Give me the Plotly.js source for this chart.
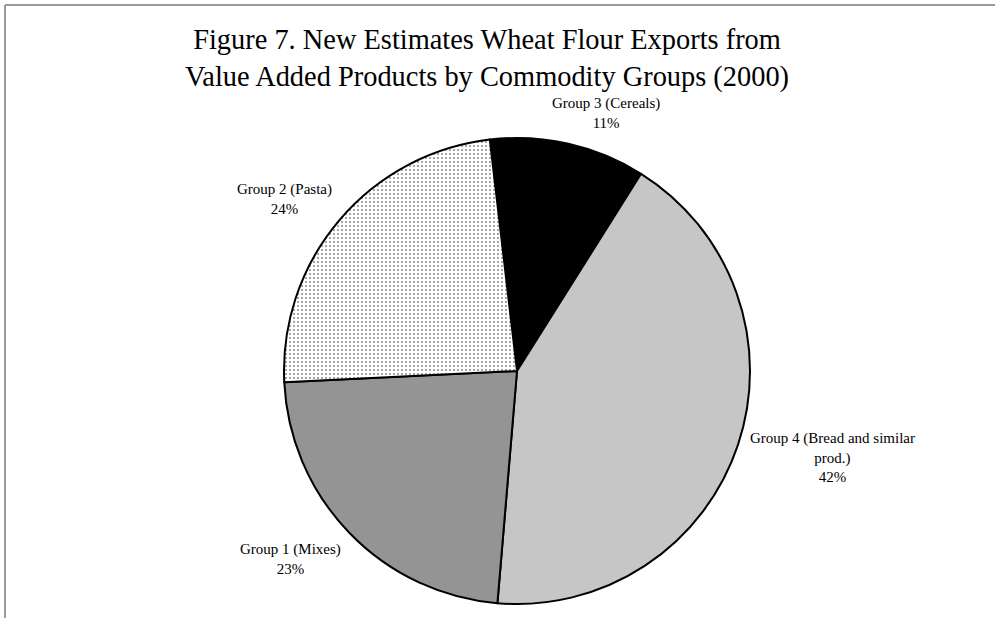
<!DOCTYPE html>
<html>
<head>
<meta charset="utf-8">
<script src="https://cdn.plot.ly/plotly-3.0.1.min.js"></script>
<style>html,body{margin:0;padding:0;background:#fff;}#chart{width:995px;height:618px;}</style>
</head>
<body>
<div id="chart"></div>
<script>
// Data
const categories = ["Group 3 (Cereals)", "Group 4 (Bread and similar prod.)", "Group 1 (Mixes)", "Group 2 (Pasta)"];
const labelLines = ["Group 3 (Cereals)", "Group 4 (Bread and similar<br>prod.)", "Group 1 (Mixes)", "Group 2 (Pasta)"];
const shares = [10.8, 42.4, 22.9, 23.9];

// Styling
const fills = ["#000000", "#c6c6c6", "#949494", "#ffffff"];
const patternShapes = ["", "", "", "."];
const labelPos = [[606, 113], [832, 457], [290, 559], [284, 199]];

const W = 995, H = 618;
const cx = 517, cy = 371, R = 233;

const trace = {
  type: "pie",
  labels: categories,
  values: shares,
  sort: false,
  direction: "clockwise",
  rotation: -6.7,
  textinfo: "none",
  hoverinfo: "label+percent",
  marker: {
    colors: fills,
    line: {color: "#000000", width: 2},
    pattern: {
      shape: patternShapes,
      fgcolor: "#8a8a8a",
      bgcolor: "#ffffff",
      size: 4,
      solidity: 0.2
    }
  },
  domain: {x: [(cx - R) / W, (cx + R) / W], y: [1 - (cy + R) / H, 1 - (cy - R) / H]},
  showlegend: false
};

const total = shares.reduce((a, b) => a + b, 0);
const annotations = categories.map((c, i) => ({
  xref: "paper", yref: "paper",
  x: labelPos[i][0] / W, y: 1 - labelPos[i][1] / H,
  xanchor: "center", yanchor: "middle",
  text: labelLines[i] + "<br>" + Math.round(shares[i] / total * 100) + "%",
  showarrow: false,
  align: "center",
  font: {family: "Liberation Serif, Times New Roman, serif", size: 15, color: "#000"}
}));

annotations.push({
  xref: "paper", yref: "paper",
  x: 487 / W, y: 1 - 58 / H,
  xanchor: "center", yanchor: "middle",
  text: "Figure 7. New Estimates Wheat Flour Exports from<br>Value Added Products by Commodity Groups (2000)",
  showarrow: false,
  align: "center",
  font: {family: "Liberation Serif, Times New Roman, serif", size: 28.4, color: "#000"}
});

const layout = {
  width: W, height: H,
  margin: {l: 0, r: 0, t: 0, b: 0},
  paper_bgcolor: "#ffffff",
  plot_bgcolor: "#ffffff",
  annotations: annotations,
  shapes: [
    {type: "line", xref: "paper", yref: "paper", x0: 5 / W, x1: 1, y0: 1 - 5 / H, y1: 1 - 5 / H, line: {color: "#9a9a9a", width: 2}},
    {type: "line", xref: "paper", yref: "paper", x0: 5 / W, x1: 5 / W, y0: 1 - 5 / H, y1: 0, line: {color: "#9a9a9a", width: 2}}
  ]
};

Plotly.newPlot("chart", [trace], layout, {displayModeBar: false, staticPlot: true});
</script>
</body>
</html>
